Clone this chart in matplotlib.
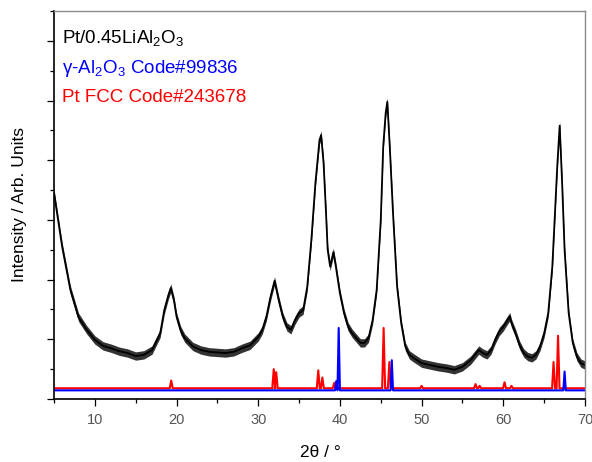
import numpy as np
import matplotlib
matplotlib.use('Agg')
import matplotlib.pyplot as plt
from matplotlib.ticker import MultipleLocator

# --- Data ---

# measured pattern (mid-line of the noisy trace)
two_theta = [5.0, 6.0, 7.0, 8.0, 9.0, 10.0, 11.0, 12.0, 13.0, 14.0, 15.0, 16.0, 17.0,
             18.0, 18.5, 19.0, 19.3, 19.7, 20.0, 20.5, 21.0, 22.0, 23.0, 24.0, 25.0,
             26.0, 27.0, 28.0, 29.0, 30.0, 30.5, 31.0, 31.5, 32.0, 32.5, 33.0, 33.5,
             34.0, 34.5, 35.0, 35.5, 36.0, 36.5, 37.0, 37.5, 37.7, 38.0, 38.3, 38.5,
             38.8, 39.2, 39.5, 40.0, 40.5, 41.0, 41.5, 42.0, 42.5, 43.0, 43.5, 44.0,
             44.5, 45.0, 45.3, 45.6, 45.8, 46.1, 46.5, 47.0, 47.5, 48.0, 48.5, 49.0,
             50.0, 51.0, 52.0, 53.0, 54.0, 55.0, 56.0, 57.0, 57.5, 58.0, 58.5, 59.0,
             59.5, 60.0, 60.5, 60.8, 61.0, 61.5, 62.0, 62.5, 63.0, 63.5, 64.0, 64.5,
             65.0, 65.5, 66.0, 66.3, 66.6, 66.9, 67.2, 67.5, 68.0, 68.5, 69.0, 69.5, 70.0]
intensity = [3.45, 2.55, 1.83, 1.37, 1.16, 0.99, 0.89, 0.85, 0.80, 0.77, 0.72, 0.74, 0.82,
             1.10, 1.49, 1.74, 1.86, 1.64, 1.38, 1.15, 1.02, 0.88, 0.82, 0.79, 0.78,
             0.77, 0.79, 0.85, 0.90, 1.04, 1.16, 1.38, 1.71, 1.98, 1.66, 1.38, 1.21,
             1.16, 1.32, 1.44, 1.49, 1.88, 2.66, 3.62, 4.34, 4.42, 3.95, 3.11, 2.50,
             2.22, 2.46, 2.22, 1.77, 1.44, 1.21, 1.10, 1.02, 0.94, 0.94, 1.02, 1.32,
             1.83, 3.00, 4.23, 4.79, 4.98, 4.23, 3.11, 1.88, 1.27, 0.88, 0.74, 0.69,
             0.60, 0.57, 0.54, 0.52, 0.49, 0.54, 0.65, 0.82, 0.77, 0.74, 0.82, 0.99,
             1.13, 1.21, 1.32, 1.38, 1.27, 1.10, 0.90, 0.77, 0.71, 0.69, 0.74, 0.88,
             1.10, 1.44, 2.22, 3.05, 3.89, 4.58, 3.62, 2.50, 1.44, 0.94, 0.71, 0.60, 0.57]

# reference cards: peak positions and heights (drawn on a baseline)
pt_pos = [19.35, 31.9, 32.2, 37.35, 37.85, 39.3, 45.35, 46.05, 50.0, 56.6, 57.1,
          60.15, 61.0, 66.15, 66.7]
pt_hgt = [0.31, 0.50, 0.45, 0.48, 0.36, 0.27, 1.19, 0.62, 0.22, 0.25, 0.22,
          0.28, 0.22, 0.62, 1.06]
al_pos = [39.55, 39.85, 46.35, 67.5]
al_hgt = [0.30, 1.19, 0.65, 0.46]

pt_base = 0.18
al_base = 0.145

labels = ['Pt/0.45LiAl$\\mathregular{_2}$O$\\mathregular{_3}$',
          'γ-Al$\\mathregular{_2}$O$\\mathregular{_3}$ Code#99836',
          'Pt FCC Code#243678']
label_colors = ['black', '#0000ff', '#ff0000']

# half thickness of the noise band on the measured trace (style only)
noise_band = 0.07


def stick_pattern(positions, heights, base, half_width=0.18, lo=5.0, hi=70.0):
    """Turn a list of peaks into a polyline of narrow triangles on a flat baseline."""
    xs, ys = [lo], [base]
    for p, h in sorted(zip(positions, heights)):
        xs += [p - half_width, p, p + half_width]
        ys += [base, h, base]
    xs.append(hi)
    ys.append(base)
    return xs, ys


plt.rcParams['font.family'] = ['Liberation Sans', 'DejaVu Sans']
plt.rcParams['mathtext.fontset'] = 'custom'
plt.rcParams['mathtext.rm'] = 'Liberation Sans'
plt.rcParams['mathtext.it'] = 'Liberation Sans:italic'

fig = plt.figure(figsize=(5.92, 4.62), dpi=100)
ax = fig.add_axes([54 / 592, 63 / 462, 531 / 592, 388 / 462])

# noisy trace: a thin vertical band around the mid-line plus a black core line
y = np.array(intensity)
ax.fill_between(two_theta, y - noise_band, y + noise_band, color='#333333', lw=0)
ax.plot(two_theta, intensity, color='black', lw=1.3)

px, py = stick_pattern(pt_pos, pt_hgt, pt_base)
ax.plot(px, py, color='#ff0000', lw=1.5)
ax_, ay = stick_pattern(al_pos, al_hgt, al_base, half_width=0.15)
ax.plot(ax_, ay, color='#0000ff', lw=1.5)

ax.set_xlim(5, 70)
ax.set_ylim(0, 6.5)

ax.xaxis.set_major_locator(MultipleLocator(10))
ax.xaxis.set_minor_locator(MultipleLocator(5))
ax.yaxis.set_major_locator(MultipleLocator(1))
ax.yaxis.set_minor_locator(MultipleLocator(0.5))
ax.set_yticklabels([])

ax.tick_params(which='major', direction='out', length=5, width=0.9, colors='black',
               labelcolor='#555555', labelsize=10.5, pad=5)
ax.tick_params(which='minor', direction='out', length=3, width=0.9, colors='black')
ax.tick_params(top=False, right=False, which='both')

for side in ['left', 'bottom']:
    ax.spines[side].set_linewidth(1.2)
    ax.spines[side].set_color('black')
for side in ['top', 'right']:
    ax.spines[side].set_linewidth(1.0)
    ax.spines[side].set_color('#8a8a8a')

# legend-like labels in the top-left corner
for i, (txt, col) in enumerate(zip(labels, label_colors)):
    ax.text(0.015, 0.9175 - i * 0.0765, txt, color=col, fontsize=13.5,
            transform=ax.transAxes, ha='left', va='baseline')

fig.text(320 / 592, 5 / 462, '2θ / °', ha='center', va='baseline', fontsize=12.5)
fig.text(20 / 592, 257 / 462, 'Intensity / Arb. Units', ha='center', va='center',
         rotation=90, fontsize=12.5)

fig.savefig('out.png', dpi=100)
